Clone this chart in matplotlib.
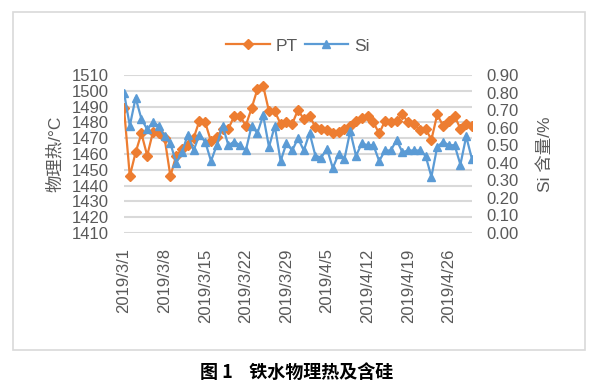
import matplotlib
matplotlib.use('Agg')
from matplotlib import pyplot as plt
from matplotlib.patches import Rectangle
import pandas as pd
import numpy as np

plt.rcParams['font.family'] = ['Liberation Sans', 'Noto Sans CJK SC', 'DejaVu Sans']

dates = pd.date_range('2019-03-01', '2019-04-30', freq='D')

pt = [1489, 1446, 1461, 1473, 1459, 1474, 1473, 1470, 1446, 1459,
      1463, 1466, 1470, 1481, 1480, 1468, 1471, 1476, 1476, 1484,
      1484, 1478, 1489, 1501, 1503, 1487, 1487, 1479, 1480, 1479,
      1488, 1482, 1484, 1477, 1476, 1475, 1473, 1474, 1476, 1478,
      1481, 1483, 1484, 1480, 1473, 1481, 1480, 1481, 1485, 1480,
      1479, 1475, 1476, 1469, 1485, 1478, 1481, 1484, 1476, 1479,
      1478]

si = [0.80, 0.61, 0.77, 0.65, 0.59, 0.63, 0.61, 0.55, 0.51, 0.40,
      0.46, 0.56, 0.47, 0.56, 0.52, 0.41, 0.50, 0.61, 0.50, 0.52,
      0.50, 0.47, 0.61, 0.57, 0.67, 0.49, 0.61, 0.41, 0.51, 0.47,
      0.54, 0.47, 0.57, 0.44, 0.43, 0.48, 0.37, 0.45, 0.42, 0.58,
      0.44, 0.51, 0.50, 0.50, 0.41, 0.47, 0.47, 0.53, 0.46, 0.47,
      0.47, 0.47, 0.44, 0.32, 0.49, 0.52, 0.50, 0.50, 0.39, 0.55,
      0.42]

orange = '#ED7D31'
blue = '#5B9BD5'
grid_c = '#D9D9D9'
txt_c = '#595959'

fig = plt.figure(figsize=(6, 3.89), dpi=100)
# chart frame
fig.patches.append(Rectangle((13/600, 1 - 350/389), 572/600, 338/389,
                             transform=fig.transFigure, fill=False,
                             edgecolor=grid_c, lw=1.2))

ax = fig.add_axes([124/600, 1 - 233/389, 348/600, 158/389])
ax2 = ax.twinx()

ax.set_ylim(1410, 1510)
ax.set_yticks(np.arange(1410, 1511, 10))
ax2.set_ylim(0, 0.9)
ax2.set_yticks(np.arange(0, 0.91, 0.1))
ax2.set_yticklabels([f'{v:.2f}' for v in np.arange(0, 0.91, 0.1)])

ax.grid(axis='y', color=grid_c, lw=1.5)
ax.set_axisbelow(True)
for a in (ax, ax2):
    for s in a.spines.values():
        s.set_visible(False)
    a.tick_params(length=0, labelsize=12, labelcolor=txt_c)

l1, = ax.plot(dates, pt, color=orange, lw=1.6, marker='D', ms=5, label='PT')
l2, = ax2.plot(dates, si, color=blue, lw=1.6, marker='^', ms=5.5, label='Si')

ax.set_xlim(dates[0], dates[-1])
ticks = dates[::7]
ax.set_xticks(ticks)
ax.set_xticklabels([f'{d.year}/{d.month}/{d.day}' for d in ticks],
                   rotation=90, va='top')
ax.tick_params(axis='x', pad=11)
ax.tick_params(axis='y', pad=11)
ax2.tick_params(axis='y', pad=10)

ax.set_ylabel('物理热/°C', fontsize=12.5, color=txt_c, labelpad=6)
ax2.set_ylabel('Si 含量/%', fontsize=12.5, color=txt_c, rotation=90, labelpad=14)

fig.legend(handles=[l1, l2], loc='center', bbox_to_anchor=(298/600, 1 - 46/389),
           ncol=2, frameon=False, fontsize=12.5, handlelength=2.5,
           columnspacing=0.4, handletextpad=0.35, labelcolor=txt_c)

fig.text(0.495, 1 - 372/389, '图 1    铁水物理热及含硅', ha='center', va='center',
         fontsize=13, fontweight='bold', family=['Noto Sans CJK SC'])

fig.savefig('out.png', dpi=100)
